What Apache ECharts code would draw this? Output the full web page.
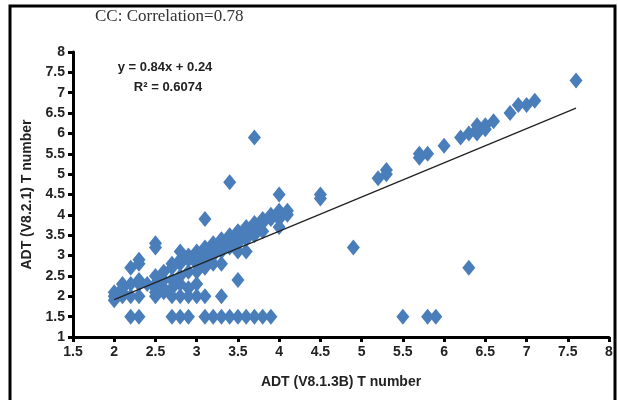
<!DOCTYPE html>
<html><head><meta charset="utf-8">
<script src="https://cdn.jsdelivr.net/npm/echarts@6/dist/echarts.min.js"></script>
<style>html,body{margin:0;padding:0;background:#fff}#c{width:618px;height:400px}</style>
</head><body><div id="c"></div>
<script>
const titleText = "CC: Correlation=0.78";
const xAxisName = "ADT (V8.1.3B) T number";
const yAxisName = "ADT (V8.2.1) T number";
const equationText = "y = 0.84x + 0.24";
const r2Text = "R\u00B2 = 0.6074";
// ADT V8.1.3B values (x)
const xVals = [
  2.0,2.0,2.0,2.1,2.1,2.1,2.2,2.2,2.2,2.3,2.3,2.3,2.3,2.3,2.4,2.1,
  2.5,2.5,2.5,2.5,2.6,2.6,2.7,2.7,2.8,2.8,2.9,2.9,3.0,3.0,3.1,3.1,3.2,3.2,3.3,3.3,3.4,3.4,3.5,3.5,3.6,3.6,3.7,3.7,3.8,3.8,3.9,3.9,4.0,4.0,4.0,4.1,4.1,4.0,
  2.5,2.6,2.7,2.8,2.9,3.0,3.0,3.1,3.1,3.2,3.2,3.3,3.3,3.4,3.5,3.6,3.5,3.6,3.7,3.8,
  2.6,2.7,2.8,2.9,3.0,3.1,3.3,2.9,3.0,2.7,2.8,3.5,2.8,
  2.2,2.3,2.7,2.8,2.9,3.1,3.2,3.3,3.4,3.5,3.6,3.7,3.8,3.9,
  4.5,4.5,4.9,5.2,5.3,5.3,5.7,5.7,5.8,6.0,6.2,6.3,6.4,6.4,6.4,6.5,6.5,6.6,6.8,6.9,7.0,7.1,7.6,
  6.3,5.5,5.8,5.9,3.7,3.4,4.0,3.1,2.5,2.5
];
// ADT V8.2.1 values (y)
const yVals = [
  1.9,2.0,2.1,2.0,2.2,2.3,2.0,2.3,2.7,2.0,2.3,2.4,2.8,2.9,2.3,2.1,
  2.0,2.3,2.2,2.5,2.6,2.4,2.7,2.8,2.8,2.9,2.9,3.0,3.0,3.1,3.1,3.2,3.2,3.3,3.3,3.4,3.4,3.5,3.5,3.6,3.6,3.7,3.7,3.8,3.8,3.9,3.9,4.0,3.9,4.0,4.1,4.0,4.1,3.7,
  2.1,2.2,2.4,2.5,2.6,2.6,2.8,2.7,2.9,2.8,3.0,2.8,3.1,3.2,3.1,3.1,3.3,3.4,3.5,3.6,
  2.1,2.0,2.0,2.0,2.0,2.0,2.0,2.2,2.3,2.2,2.3,2.4,3.1,
  1.5,1.5,1.5,1.5,1.5,1.5,1.5,1.5,1.5,1.5,1.5,1.5,1.5,1.5,
  4.5,4.4,3.2,4.9,5.0,5.1,5.4,5.5,5.5,5.7,5.9,6.0,6.0,6.1,6.2,6.1,6.2,6.3,6.5,6.7,6.7,6.8,7.3,
  2.7,1.5,1.5,1.5,5.9,4.8,4.5,3.9,3.2,3.3
];
const trendX = [2.0, 7.6];
const trendY = [1.92, 6.62];
const xTicks = {min:1.5, max:8, interval:0.5};
const yTicks = {min:1, max:8, interval:0.5};

const points = xVals.map((x,i)=>[x, yVals[i]]);
const trend = trendX.map((x,i)=>[x, trendY[i]]);
const lblFont = {fontFamily:"'Liberation Sans Narrow','Arial Narrow',Arial,sans-serif", fontWeight:'bold', fontSize:14, color:'#222'};
const chart = echarts.init(document.getElementById('c'), null, {renderer:'canvas'});
chart.setOption({
  animation:false,
  backgroundColor:'#fff',
  grid:{left:73, right:9, top:52, bottom:63, containLabel:false},
  xAxis:{type:'value', min:xTicks.min, max:xTicks.max, interval:xTicks.interval,
    name:xAxisName, nameLocation:'middle', nameGap:38,
    nameTextStyle:Object.assign({}, lblFont, {fontSize:14}),
    axisLine:{show:true, onZero:false, lineStyle:{color:'#000', width:3}},
    axisTick:{show:true, length:5, lineStyle:{color:'#000', width:3}},
    axisLabel:Object.assign({margin:8, formatter:v=>String(v)}, lblFont),
    splitLine:{show:false}},
  yAxis:{type:'value', min:yTicks.min, max:yTicks.max, interval:yTicks.interval,
    name:yAxisName, nameLocation:'middle', nameGap:35,
    nameTextStyle:Object.assign({}, lblFont, {fontSize:14}),
    axisLine:{show:true, onZero:false, lineStyle:{color:'#000', width:3}},
    axisTick:{show:true, length:5, lineStyle:{color:'#000', width:3}},
    axisLabel:Object.assign({margin:8, formatter:v=>String(v)}, lblFont),
    splitLine:{show:false}},
  series:[
    {type:'scatter', data:points, symbol:'diamond', symbolSize:[13,16],
      itemStyle:{color:'#4A7EBB', opacity:1}, z:2},
    {type:'line', data:trend, symbol:'none', lineStyle:{color:'#222', width:1.3}, z:3}
  ],
  graphic:[
    {type:'rect', shape:{x:10, y:6, width:605, height:400}, style:{fill:'none', stroke:'#000', lineWidth:3}, silent:true},
    {type:'text', left:95, top:8, style:{text:titleText, font:"17px 'Liberation Serif','Times New Roman',serif", fill:'#333'}},
    {type:'text', x:165, y:67, style:{text:equationText, font:"bold 13px 'Liberation Sans Narrow','Arial Narrow',sans-serif", fill:'#222', align:'center', verticalAlign:'middle'}},
    {type:'text', x:168, y:87, style:{text:r2Text, font:"bold 13px 'Liberation Sans Narrow','Arial Narrow',sans-serif", fill:'#222', align:'center', verticalAlign:'middle'}}
  ]
});
</script></body></html>
